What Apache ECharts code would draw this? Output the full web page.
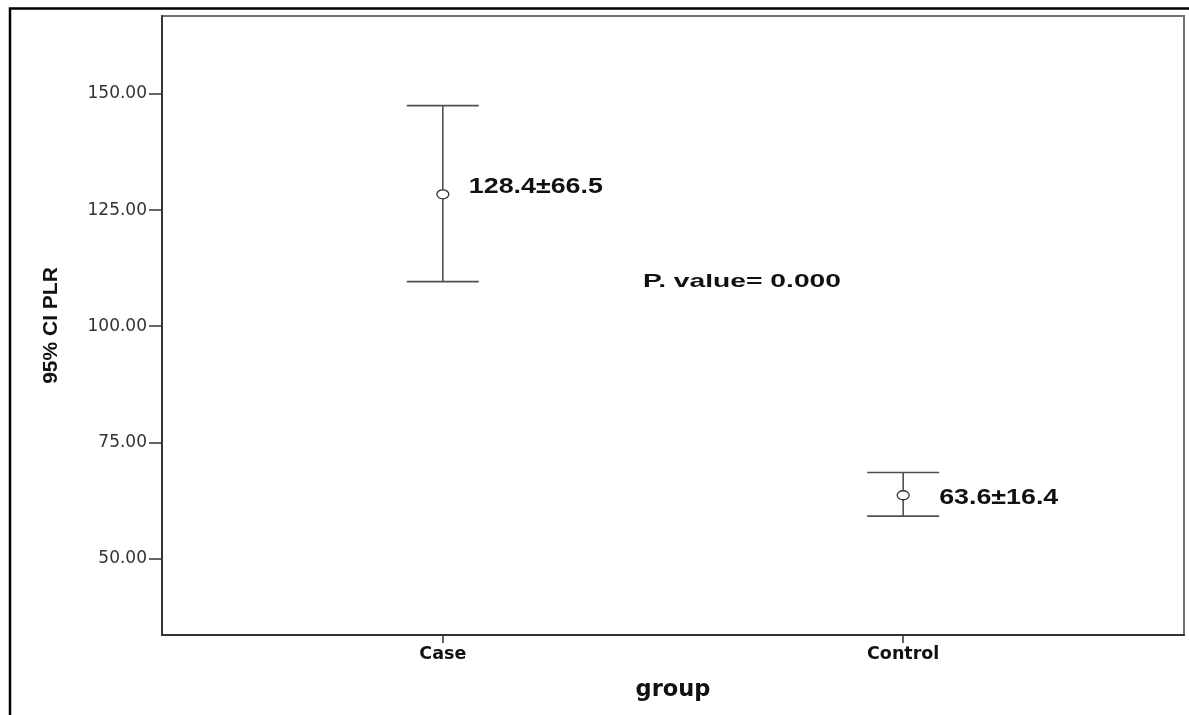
<!DOCTYPE html>
<html>
<head>
<meta charset="utf-8">
<script src="https://cdn.jsdelivr.net/npm/echarts@6/dist/echarts.min.js"></script>
<style>
html,body{margin:0;padding:0;background:#fff;}
#chart{width:1189px;height:715px;}
</style>
</head>
<body>
<div id="chart"></div>
<script>
const categories = ['Case', 'Control'];
const means = [128.4, 63.6];
const sds = [66.5, 16.4];
const ciLower = [109.6, 59.1];
const ciUpper = [147.5, 68.5];
const yTicks = [50, 75, 100, 125, 150];
const pValueText = 'P. value= 0.000';

const chart = echarts.init(document.getElementById('chart'));

const measureCtx = document.createElement('canvas').getContext('2d');
function textWidth(text, font) { measureCtx.font = font; return measureCtx.measureText(text).width; }

const data = categories.map((c, i) => [i + 1, ciLower[i], ciUpper[i], means[i], sds[i]]);
const labelOffsets = [[26, -7], [36, 3]];
const labelFont = 'bold 22px "Liberation Sans"';
const labelScale = 134 / textWidth('128.4±66.5', labelFont);
const pFont = 'bold 19px "Liberation Sans"';
const pScale = 198 / textWidth(pValueText, pFont);

const option = {
  animation: false,
  backgroundColor: '#fff',
  grid: {
    left: 162, top: 16, right: 5, bottom: 80,
    show: true, borderColor: '#707070', borderWidth: 2, backgroundColor: '#fff'
  },
  xAxis: {
    type: 'value', min: 0.39, max: 2.61,
    name: 'group', nameLocation: 'middle', nameGap: 44,
    nameTextStyle: { fontFamily: 'DejaVu Sans', fontWeight: 'bold', fontSize: 22.5, color: '#111' },
    axisLine: { show: true, lineStyle: { color: '#333', width: 2 } },
    axisTick: { show: true, customValues: [1, 2], length: 8, inside: false, lineStyle: { color: '#333', width: 1.5 } },
    axisLabel: {
      customValues: [1, 2],
      formatter: v => categories[Math.round(v) - 1] || '',
      fontFamily: 'DejaVu Sans', fontWeight: 'bold', fontSize: 17.5, color: '#111', margin: 10
    },
    splitLine: { show: false }
  },
  yAxis: {
    type: 'value', min: 33.5, max: 166.8,
    name: '95% CI PLR', nameLocation: 'middle', nameGap: 100, nameRotate: 90,
    nameTextStyle: { fontFamily: 'Liberation Sans', fontWeight: 'bold', fontSize: 21, color: '#111' },
    axisLine: { show: true, lineStyle: { color: '#333', width: 2 } },
    axisTick: { show: true, customValues: yTicks, length: 13, lineStyle: { color: '#333', width: 1.5 } },
    axisLabel: {
      customValues: yTicks,
      formatter: v => v.toFixed(2),
      fontFamily: 'DejaVu Sans', fontSize: 17, color: '#333', margin: 15
    },
    splitLine: { show: false }
  },
  series: [{
    type: 'custom',
    data: data,
    renderItem: function (params, api) {
      const x = api.value(0), lo = api.value(1), hi = api.value(2), m = api.value(3), sd = api.value(4);
      const pHi = api.coord([x, hi]);
      const pLo = api.coord([x, lo]);
      const pM = api.coord([x, m]);
      const hw = 36;
      const stroke = { stroke: '#505050', lineWidth: 1.6 };
      const off = labelOffsets[params.dataIndex];
      return {
        type: 'group',
        children: [
          { type: 'line', shape: { x1: pHi[0], y1: pHi[1], x2: pLo[0], y2: pLo[1] }, style: stroke },
          { type: 'line', shape: { x1: pHi[0] - hw, y1: pHi[1], x2: pHi[0] + hw, y2: pHi[1] }, style: stroke },
          { type: 'line', shape: { x1: pLo[0] - hw, y1: pLo[1], x2: pLo[0] + hw, y2: pLo[1] }, style: stroke },
          { type: 'ellipse', shape: { cx: pM[0], cy: pM[1], rx: 6, ry: 4.5 }, style: { fill: '#fff', stroke: '#333', lineWidth: 1.3 } },
          { type: 'text', x: pM[0] + off[0], y: pM[1] + off[1], scaleX: labelScale, style: {
              text: m.toFixed(1) + '±' + sd.toFixed(1),
              x: 0, y: 0,
              verticalAlign: 'middle', align: 'left',
              font: labelFont, fill: '#111'
          } }
        ]
      };
    }
  }],
  graphic: [
    { type: 'polyline', shape: { points: [[10, 720], [10, 8.5], [1195, 8.5]] }, style: { fill: 'none', stroke: '#000', lineWidth: 2.5 }, z: 100 },
    { type: 'text', x: 643, y: 282, scaleX: pScale, style: { text: pValueText, x: 0, y: 0, verticalAlign: 'middle', align: 'left', font: pFont, fill: '#111' } }
  ]
};
chart.setOption(option);
</script>
</body>
</html>
